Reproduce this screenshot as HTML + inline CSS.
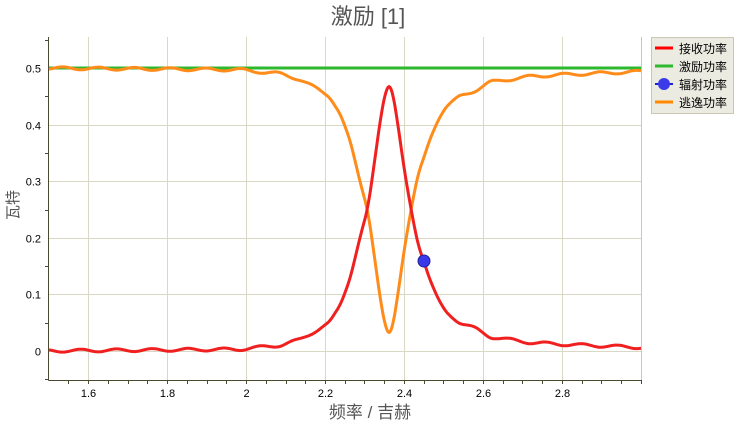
<!DOCTYPE html>
<html><head><meta charset="utf-8"><style>
body{margin:0;background:#fff;width:738px;height:426px;overflow:hidden;font-family:"Liberation Sans","Noto Sans CJK SC",sans-serif}
</style></head><body>
<svg id="s" width="738" height="426" xmlns="http://www.w3.org/2000/svg" font-family="Liberation Sans, Noto Sans CJK SC, sans-serif">
<text x="368" y="24" font-size="22" fill="#555" text-anchor="middle">激励 [1]</text>
<g id="grid" stroke="#d8d8c4" stroke-width="1"></g>
<g id="ax"></g>
<g id="series" fill="none" stroke-width="3" stroke-linejoin="round"></g>
<circle cx="424" cy="261" r="6" fill="#3a3ae8" stroke="#2020a0" stroke-width="1"/>
<text x="370" y="418" font-size="17" fill="#555" text-anchor="middle">频率 / 吉赫</text>
<text transform="translate(18,205) rotate(-90)" font-size="15" fill="#555" text-anchor="middle">瓦特</text>
<rect x="651.5" y="37.5" width="82" height="76" fill="#ecebe2" stroke="#c8c8b4"/>
<line x1="655" y1="48" x2="673" y2="48" stroke="#f00" stroke-width="3"/>
<line x1="655" y1="66" x2="673" y2="66" stroke="#2db82d" stroke-width="3"/>
<line x1="655" y1="84" x2="673" y2="84" stroke="#2020d0" stroke-width="2"/>
<circle cx="664" cy="84" r="6" fill="#3a3ae8"/>
<line x1="655" y1="102" x2="673" y2="102" stroke="#ff8800" stroke-width="3"/>
<g font-size="12" fill="#000"><text x="679" y="53">接收功率</text><text x="679" y="71">激励功率</text><text x="679" y="89">辐射功率</text><text x="679" y="107">逃逸功率</text></g>
</svg>
<script>
var NS="http://www.w3.org/2000/svg";
function el(p,t,a,txt){var e=document.createElementNS(NS,t);for(var k in a)e.setAttribute(k,a[k]);if(txt!==undefined)e.textContent=txt;p.appendChild(e);return e;}
var g=document.getElementById('grid'),ax=document.getElementById('ax'),se=document.getElementById('series');
var L=49,R=641,T=37,B=380;
function X(f){return 48.5+(f-1.5)*395;}function Y(v){return 351-v*566;}
[1.6,1.8,2.0,2.2,2.4,2.6,2.8].forEach(function(f,i){var x=Math.round(X(f))+.5;el(g,'line',{x1:x,y1:T,x2:x,y2:B});
el(ax,'text',{x:x,y:397,'font-size':11,'text-anchor':'middle',fill:'#000'},['1.6','1.8','2','2.2','2.4','2.6','2.8'][i]);});
for(var f=1.55;f<3;f+=0.05){var x=Math.round(X(f))+.5;el(ax,'line',{x1:x,y1:B,x2:x,y2:B+4,stroke:'#4a4a30'});}
[0,0.1,0.2,0.3,0.4,0.5].forEach(function(v){var y=Math.round(Y(v))+.5;el(g,'line',{x1:L,y1:y,x2:R,y2:y});
el(ax,'text',{x:41,y:y+4,'font-size':11,'text-anchor':'end',fill:'#000'},v===0?'0':String(v));});
for(var v=-0.05;v<0.56;v+=0.1){var y=Math.round(Y(v))+.5;el(ax,'line',{x1:L-4,y1:y,x2:L,y2:y,stroke:'#4a4a30'});}
el(ax,'line',{x1:L-.5,y1:T,x2:L-.5,y2:B+.5,stroke:'#4a4a30'});
el(ax,'line',{x1:L-.5,y1:B+.5,x2:R,y2:B+.5,stroke:'#4a4a30'});
el(ax,'line',{x1:R+.5,y1:T,x2:R+.5,y2:B,stroke:'#c8c8b4'});
var P=[[30,0],[240,0.003],[250,0.005],[280,0.01],[300,0.02],[315,0.035],[330,0.05],[340,0.08],[350,0.13],[360,0.2],[368,0.25],[375,0.34],[381,0.42],[386,0.465],[389,0.475],[392,0.465],[397,0.41],[404,0.32],[411,0.25],[418,0.19],[424,0.16],[430,0.125],[438,0.09],[445,0.07],[460,0.05],[475,0.04],[490,0.025],[510,0.02],[530,0.015],[560,0.012],[660,0.005]];
function lin(x){for(var i=0;i<P.length-1;i++){if(x<=P[i+1][0]){var a=P[i],b=P[i+1],t=(x-a[0])/(b[0]-a[0]);return a[1]+(b[1]-a[1])*t;}}return 0.005;}
function red(x){var s=0;for(var k=-3;k<=3;k++)s+=lin(x+k);return s/7;}
var dr='',dorg='';
for(var x=49;x<=641;x+=1){var r=red(x),w=0.0025*Math.sin(x/5.7);var rv=r+w,ov=0.5-r-w;
dr+=(x==49?'M':'L')+x+','+Y(rv).toFixed(1);dorg+=(x==49?'M':'L')+x+','+Y(ov).toFixed(1);}
el(se,'path',{d:'M49,68L641,68',stroke:'#2db82d'});
el(se,'path',{d:dorg,stroke:'#ff8c1a'});
el(se,'path',{d:dr,stroke:'#f02020'});
</script>
</body></html>
